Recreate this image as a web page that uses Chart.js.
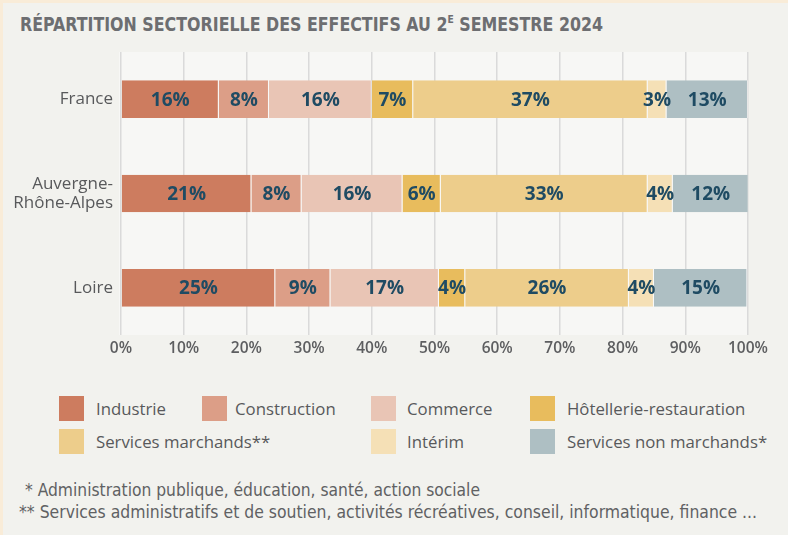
<!DOCTYPE html>
<html lang="fr">
<head>
<meta charset="utf-8">
<script src="https://cdn.jsdelivr.net/npm/chart.js@4/dist/chart.umd.min.js"></script>
<style>
  html, body { margin: 0; padding: 0; }
  body {
    width: 788px; height: 535px; position: relative; overflow: hidden;
    background: #f9ecd8; font-family: "Open Sans", "Noto Sans", sans-serif;
  }
  #panel { position: absolute; left: 3px; top: 3px; width: 785px; height: 532px; background: #f2f2ee; }
  #title {
    position: absolute; left: 20px; top: 13px; white-space: nowrap;
    font-family: "DejaVu Sans Condensed", "DejaVu Sans", sans-serif; font-weight: bold;
    font-size: 19px; color: #6d6e71; transform-origin: left center;
  }
  #title sup { font-size: 11px; vertical-align: 8px; line-height: 0; }
  #chartBox { position: absolute; left: 0; top: 0; width: 788px; height: 365px; }
  .lg-box { position: absolute; width: 25px; height: 25px; }
  .lg-text { position: absolute; font-size: 16.8px; color: #58595b; white-space: nowrap; line-height: 25px; }
  .note {
    position: absolute; white-space: nowrap; color: #606163;
    font-family: "Liberation Sans Narrow", "DejaVu Sans Condensed", sans-serif;
    font-weight: 300; font-size: 18px; transform-origin: left center;
  }
</style>
</head>
<body>
<div id="panel"></div>
<div id="title">RÉPARTITION SECTORIELLE DES EFFECTIFS AU 2<sup>E</sup> SEMESTRE 2024</div>
<div id="chartBox"><canvas id="chart"></canvas></div>
<div id="legend"></div>
<div class="note" id="note1" style="left:25px; top:479px;">* Administration publique, éducation, santé, action sociale</div>
<div class="note" id="note2" style="left:19px; top:501px;">** Services administratifs et de soutien, activités récréatives, conseil, informatique, finance ...</div>
<script>
// territoires
const regions = ['France', ['Auvergne-', 'Rhône-Alpes'], 'Loire']

// part de chaque secteur (%), dans l'ordre France, AURA, Loire
const industrie = [15.6, 20.8, 24.6]
const construction = [8.0, 8.0, 8.8]
const commerce = [16.4, 16.1, 17.3]
const hotellerie = [6.6, 6.1, 4.2]
const servicesMarchands = [37.4, 33.0, 26.1]
const interim = [3.0, 4.0, 4.0]
const servicesNonMarchands = [13.0, 12.1, 14.9]

const xTicks = [0, 10, 20, 30, 40, 50, 60, 70, 80, 90, 100]

const sectorNames = ['Industrie', 'Construction', 'Commerce', 'Hôtellerie-restauration',
    'Services marchands**', 'Intérim', 'Services non marchands*']
const sectorValues = [industrie, construction, commerce, hotellerie, servicesMarchands, interim, servicesNonMarchands]
const sectorColors = ['#cd7c5f', '#dc9e87', '#e9c5b5', '#e8bc5d', '#edcd8b', '#f5e0b6', '#aebfc3']

// legend grid: column / row of each sector
const legendBoxX = [59, 202, 371, 530]
const legendTextX = [96, 235, 407, 567]
const legendRows = [396, 429]
const legendPlace = [[0, 0], [1, 0], [2, 0], [3, 0], [0, 1], [2, 1], [3, 1]]

function buildLegend() {
    const legend = document.getElementById('legend')
    sectorNames.forEach((name, i) => {
        const [c, r] = legendPlace[i]
        const box = document.createElement('div')
        box.className = 'lg-box'
        box.style.left = legendBoxX[c] + 'px'
        box.style.top = legendRows[r] + 'px'
        box.style.background = sectorColors[i]
        const txt = document.createElement('div')
        txt.className = 'lg-text'
        txt.style.left = legendTextX[c] + 'px'
        txt.style.top = legendRows[r] + 'px'
        txt.innerText = name
        legend.appendChild(box)
        legend.appendChild(txt)
    })
}

function fitWidth(id, target) {
    const el = document.getElementById(id)
    const w = el.getBoundingClientRect().width
    el.style.transform = `scaleX(${target / w})`
}

const plotBackground = {
    id: 'plotBackground',
    beforeDraw(chart) {
        const {ctx, chartArea} = chart
        ctx.save()
        ctx.fillStyle = '#f7f7f5'
        ctx.fillRect(chartArea.left - 2, chartArea.top, chartArea.right - chartArea.left + 2, chartArea.bottom - chartArea.top)
        ctx.restore()
    }
}

const barLabels = {
    id: 'barLabels',
    afterDatasetsDraw(chart) {
        const ctx = chart.ctx
        ctx.save()
        ctx.font = 'bold 19px "Open Sans", "Noto Sans", sans-serif'
        ctx.fillStyle = '#1f4b63'
        ctx.textAlign = 'center'
        ctx.textBaseline = 'middle'
        chart.data.datasets.forEach((ds, i) => {
            chart.getDatasetMeta(i).data.forEach((bar, j) => {
                const p = bar.getCenterPoint()
                ctx.fillText(Math.round(ds.data[j]) + '%', p.x, p.y + 1)
            })
        })
        ctx.restore()
    }
}

function drawChart() {
    new Chart('chart', {
        type: 'bar',
        data: {
            labels: regions,
            datasets: sectorNames.map((name, i) => ({
                label: name,
                data: sectorValues[i],
                backgroundColor: sectorColors[i],
                borderColor: 'rgba(255,255,255,0.35)',
                borderWidth: {right: 1},
                borderSkipped: false,
                barPercentage: 0.4,
                categoryPercentage: 1
            }))
        },
        options: {
            indexAxis: 'y',
            responsive: true,
            maintainAspectRatio: false,
            animation: false,
            layout: {padding: {top: 52, right: 40, left: 0, bottom: 0}},
            plugins: {legend: {display: false}, tooltip: {enabled: false}},
            scales: {
                x: {
                    stacked: true, min: 0, max: 100,
                    afterBuildTicks: axis => { axis.ticks = xTicks.map(v => ({value: v})) },
                    afterFit: axis => { axis.height = 30 },
                    grid: {color: '#dadada', lineWidth: 1.5, drawTicks: false},
                    border: {display: false},
                    ticks: {
                        padding: 4, color: '#5d5e60',
                        font: {family: '"Open Sans", sans-serif', size: 15.5, weight: '600'},
                        callback: v => v + '%'
                    }
                },
                y: {
                    stacked: true,
                    afterFit: axis => { axis.width = 121 },
                    grid: {display: false, drawTicks: false},
                    border: {display: false},
                    ticks: {
                        padding: 8, color: '#58595b',
                        font: {family: '"Open Sans", sans-serif', size: 17, lineHeight: 1.15}
                    }
                }
            }
        },
        plugins: [plotBackground, barLabels]
    })
}

buildLegend()
fitWidth('title', 583)
fitWidth('note1', 455)
fitWidth('note2', 738)
drawChart()
</script>
</body>
</html>
